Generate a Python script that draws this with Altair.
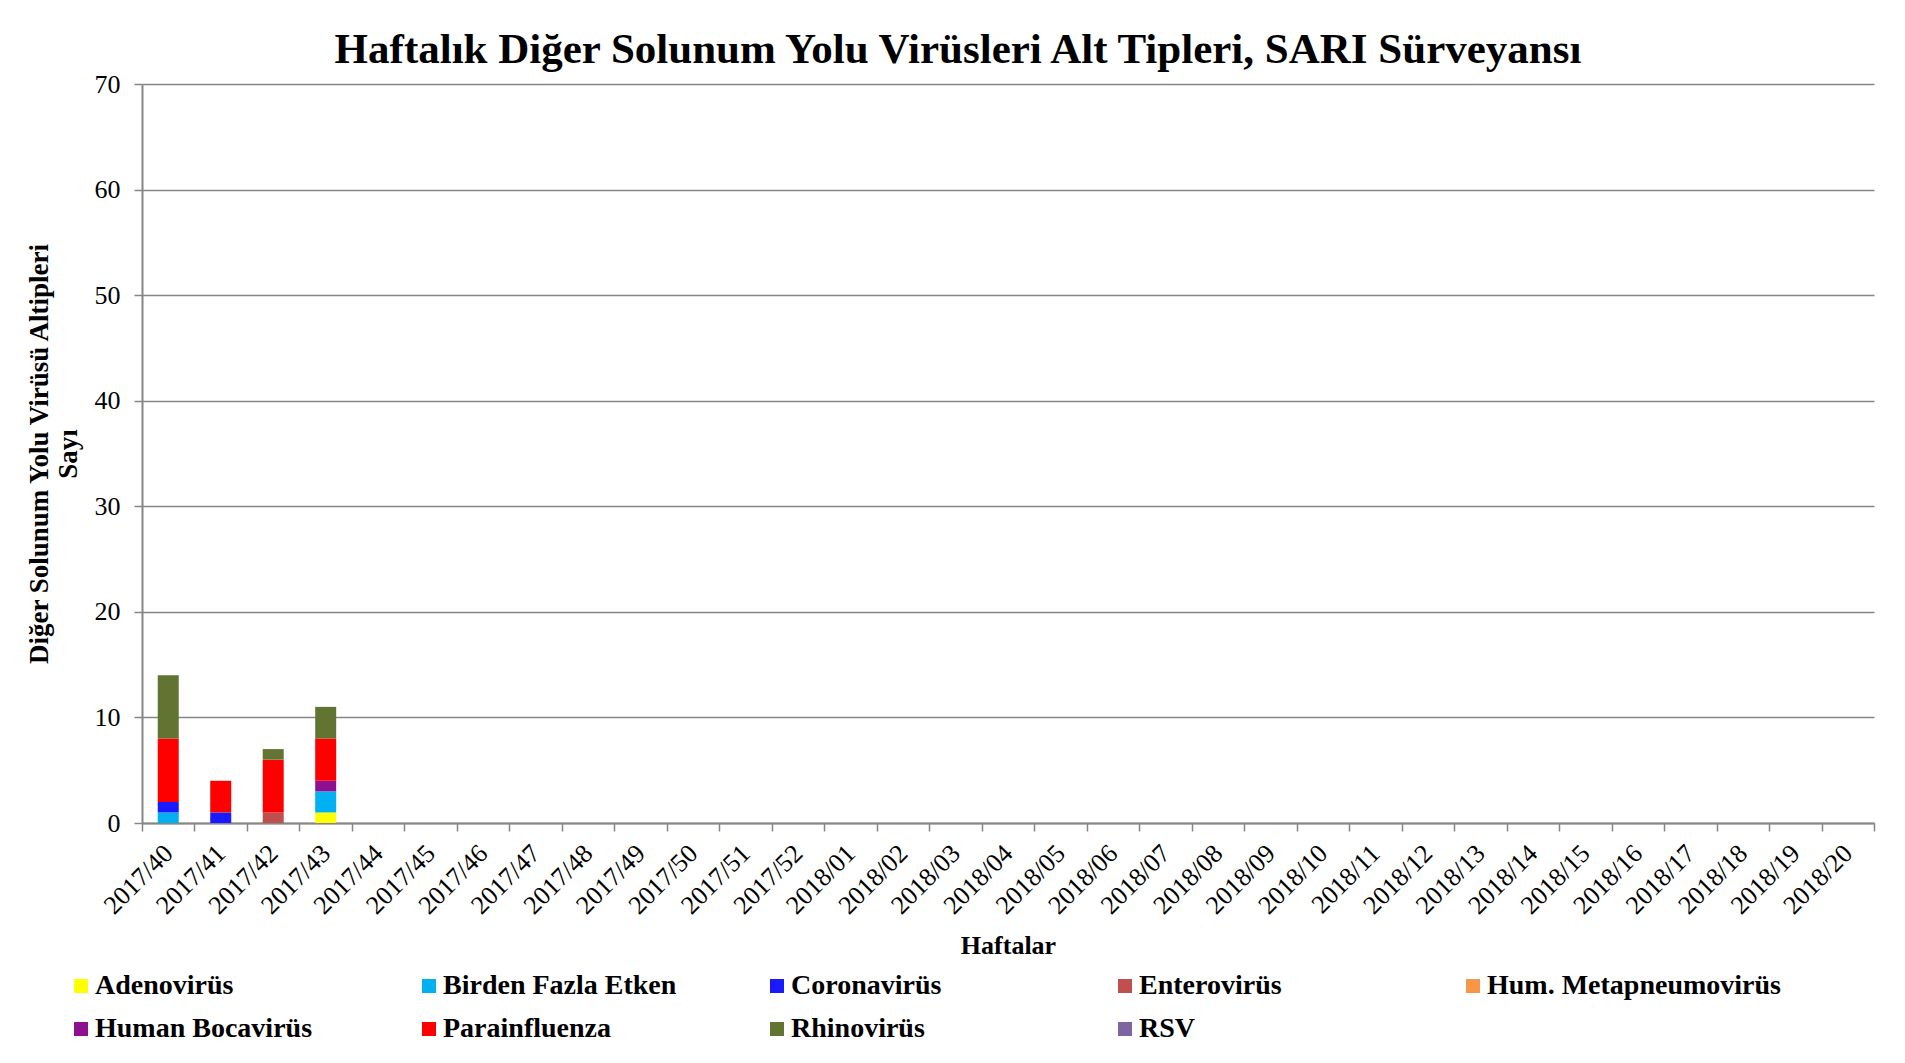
import altair as alt
import pandas as pd

weeks = ["2017/40", "2017/41", "2017/42", "2017/43", "2017/44", "2017/45", "2017/46",
         "2017/47", "2017/48", "2017/49", "2017/50", "2017/51", "2017/52",
         "2018/01", "2018/02", "2018/03", "2018/04", "2018/05", "2018/06", "2018/07",
         "2018/08", "2018/09", "2018/10", "2018/11", "2018/12", "2018/13", "2018/14",
         "2018/15", "2018/16", "2018/17", "2018/18", "2018/19", "2018/20"]

reported_weeks = ["2017/40", "2017/41", "2017/42", "2017/43"]

viruses = ["Adenovirüs", "Birden Fazla Etken", "Coronavirüs", "Enterovirüs",
           "Hum. Metapneumovirüs", "Human Bocavirüs", "Parainfluenza", "Rhinovirüs", "RSV"]
colors = ["#FFFF00", "#00B0F0", "#1A1AFF", "#C0504D", "#F79646",
          "#8E1090", "#FF0000", "#627431", "#8064A2"]

adeno = [0, 0, 0, 1]
birden = [1, 0, 0, 2]
corona = [1, 1, 0, 0]
entero = [0, 0, 1, 0]
hmpv = [0, 0, 0, 0]
hbov = [0, 0, 0, 1]
para = [6, 3, 5, 4]
rhino = [6, 0, 1, 3]
rsv = [0, 0, 0, 0]

series = [adeno, birden, corona, entero, hmpv, hbov, para, rhino, rsv]

rows = []
for vi, (name, vals) in enumerate(zip(viruses, series)):
    for w, v in zip(reported_weeks, vals):
        if v > 0:
            rows.append({"week": w, "virus": name, "count": v, "order": vi})
df = pd.DataFrame(rows)

FONT = "Liberation Serif"

chart = alt.Chart(df).mark_bar(width={"band": 0.4}).encode(
    x=alt.X("week:N",
            scale=alt.Scale(domain=weeks, paddingInner=0, paddingOuter=0),
            axis=alt.Axis(title="Haftalar", labelAngle=-45, tickBand="extent",
                          grid=False, labelPadding=18, labelBaseline="middle",
                          labelAlign="right", titleY=122, titleBaseline="middle")),
    y=alt.Y("count:Q", stack="zero",
            scale=alt.Scale(domain=[0, 70]),
            axis=alt.Axis(values=[0, 10, 20, 30, 40, 50, 60, 70],
                          title=["Diğer Solunum Yolu Virüsü Altipleri", "Sayı"],
                          titleX=-89, titleY=369.5, titleAlign="center",
                          titleBaseline="bottom", titleLineHeight=29, titleFontSize=27,
                          labelPadding=14, grid=True)),
    color=alt.Color("virus:N",
                    scale=alt.Scale(domain=viruses, range=colors),
                    legend=alt.Legend(title=None, orient="none", legendX=-75, legendY=888,
                                      direction="horizontal",
                                      columns=5, gridAlign="all", columnPadding=26,
                                      rowPadding=15, symbolType="square", symbolSize=196,
                                      symbolStrokeWidth=0, labelFont=FONT, labelFontSize=28,
                                      labelFontWeight="bold", labelOffset=0,
                                      labelLimit=500, labelColor="black")),
    order=alt.Order("order:Q"),
).properties(
    width=1732,
    height=739,
    title=alt.TitleParams(
        "Haftalık Diğer Solunum Yolu Virüsleri Alt Tipleri, SARI Sürveyansı",
        font=FONT, fontSize=43, fontWeight="bold", color="black",
        anchor="middle", dx=-50, dy=59, baseline="bottom", offset=15),
    autosize=alt.AutoSizeParams(type="none"),
    padding={"left": 134, "top": 76, "right": 20, "bottom": 225},
).configure_view(
    stroke=None
).configure_axis(
    labelFont=FONT, labelFontSize=26, labelColor="black",
    titleFont=FONT, titleFontSize=26, titleFontWeight="bold", titleColor="black",
    gridColor="#868686", gridWidth=1.5, domainColor="#868686", domainWidth=2,
    tickColor="#868686", tickWidth=1.5, tickSize=8,
)

chart.save("out.html", embed_options={"renderer": "svg", "actions": False})
